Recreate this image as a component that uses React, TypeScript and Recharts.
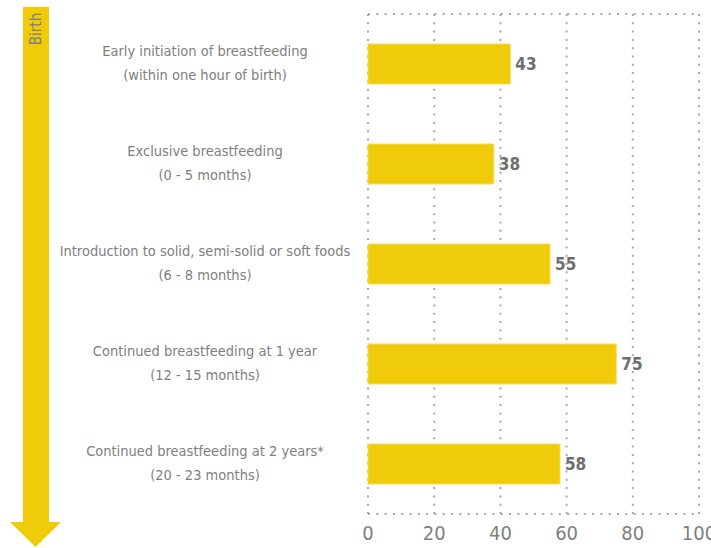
import { Bar, BarChart, CartesianGrid, LabelList, XAxis, YAxis } from "recharts";

const STAGES = [
  "Early initiation of breastfeeding",
  "Exclusive breastfeeding",
  "Introduction to solid, semi-solid or soft foods",
  "Continued breastfeeding at 1 year",
  "Continued breastfeeding at 2 years*",
];
const AGES = [
  "(within one hour of birth)",
  "(0 - 5 months)",
  "(6 - 8 months)",
  "(12 - 15 months)",
  "(20 - 23 months)",
];
const VALUES = [43, 38, 55, 75, 58];
const X_TICKS = [0, 20, 40, 60, 80, 100];

const FONT = '"Liberation Sans Narrow", "DejaVu Sans Condensed", "Roboto Condensed", sans-serif';
const YELLOW = "#f0cb0a";
const TEXT = "#808080";
const GRID = "#a8a8a8";

type Row = { stage: string; age: string; value: number };
const data: Row[] = STAGES.map((s, i) => ({ stage: s, age: AGES[i], value: VALUES[i] }));

function StageTick(props: any) {
  const { y, payload } = props;
  const row = data[payload.index] ?? data.find((d) => d.stage === payload.value);
  return (
    <text x={205} y={y} textAnchor="middle" fill={TEXT} fontFamily={FONT} fontSize={14.5}>
      <tspan x={205} dy={-8}>{row.stage}</tspan>
      <tspan x={205} dy={24}>{row.age}</tspan>
    </text>
  );
}

function BirthArrow() {
  return (
    <svg width={711} height={548} style={{ position: "absolute", left: 0, top: 0, pointerEvents: "none" }}>
      <rect x={23} y={7} width={26} height={516} fill={YELLOW} />
      <polygon points="10,522 61,522 35.5,547" fill={YELLOW} />
      <text
        transform="translate(41,29) rotate(-90)"
        textAnchor="middle"
        fill={TEXT}
        fontFamily={FONT}
        fontSize={15}
      >
        Birth
      </text>
    </svg>
  );
}

export default function App() {
  return (
    <div style={{ position: "fixed", left: 0, top: 0, width: 711, height: 548, background: "#fff" }}>
      <BarChart
        width={711}
        height={548}
        data={data}
        layout="vertical"
        margin={{ top: 14, right: 12, left: 0, bottom: 4 }}
        barCategoryGap={30}
      >
        <CartesianGrid
          stroke={GRID}
          strokeWidth={2}
          strokeDasharray="2 6.3"
          horizontalCoordinatesGenerator={({ offset }: any) => [offset.top, offset.top + offset.height]}
        />
        <XAxis
          type="number"
          domain={[0, 100]}
          ticks={X_TICKS}
          height={30}
          axisLine={false}
          tickLine={false}
          tickMargin={6}
          tick={{ fill: TEXT, fontFamily: FONT, fontSize: 20 }}
          interval={0}
        />
        <YAxis
          type="category"
          dataKey="stage"
          width={368}
          axisLine={false}
          tickLine={false}
          tick={<StageTick />}
          interval={0}
        />
        <Bar dataKey="value" fill={YELLOW} stroke="#f5dc5a" strokeWidth={1} isAnimationActive={false}>
          <LabelList
            dataKey="value"
            position="right"
            offset={5}
            fill="#6e6e6e"
            fontFamily={FONT}
            fontSize={17}
            fontWeight="bold"
          />
        </Bar>
      </BarChart>
      <BirthArrow />
    </div>
  );
}
